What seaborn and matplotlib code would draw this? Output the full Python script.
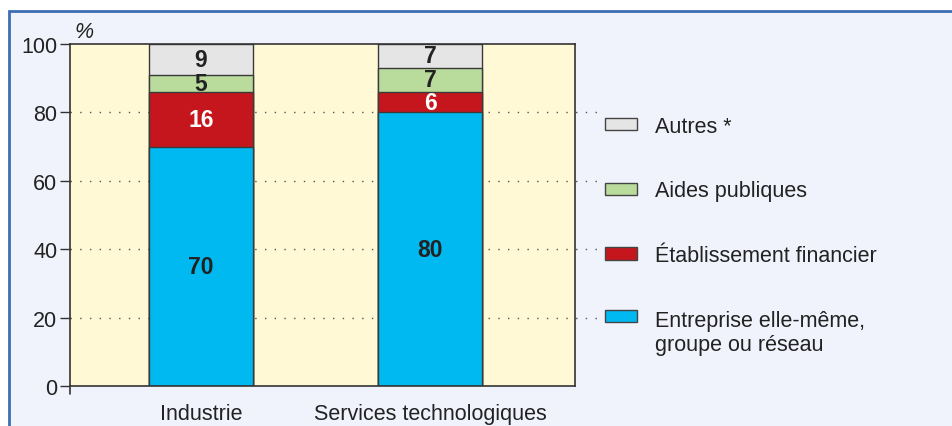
import numpy as np
import pandas as pd
import seaborn as sns
import matplotlib

matplotlib.use("Agg")
import matplotlib.pyplot as plt
from matplotlib.patches import Patch, Rectangle

secteurs = ["Industrie", "Services technologiques"]
entreprise = [70, 80]
etablissement = [16, 6]
aides = [5, 7]
autres = [9, 7]

series_labels = [
    "Entreprise elle-même,\ngroupe ou réseau",
    "Établissement financier",
    "Aides publiques",
    "Autres *",
]
series_colors = ["#00B9F1", "#C6161D", "#B9DB9C", "#E5E5E6"]
label_colors = ["#222222", "white", "#222222", "#222222"]
yticks = [0, 20, 40, 60, 80, 100]

sns.set_style("ticks")
plt.rcParams["font.family"] = ["Liberation Sans", "DejaVu Sans"]

fig = plt.figure(figsize=(9.52, 4.27), dpi=100)
fig.patch.set_facecolor("white")
fig.add_artist(
    Rectangle(
        (0.0095, -0.05), 1.1, 1.022, transform=fig.transFigure,
        facecolor="#F0F3FB", edgecolor="#3C6EB4", lw=2, zorder=-1,
    )
)

ax = fig.add_axes([0.0735, 0.0937, 0.5305, 0.801])
ax.set_facecolor("#FFF9D6")

# stacked bars drawn as cumulative totals, largest first
values = [entreprise, etablissement, aides, autres]
cum = np.cumsum(np.array(values), axis=0)
df = pd.DataFrame({"secteur": secteurs})
for i in range(len(values) - 1, -1, -1):
    df["total"] = cum[i]
    sns.barplot(
        data=df, x="secteur", y="total", color=series_colors[i], saturation=1,
        width=0.454, edgecolor="#3a3a3a", linewidth=1, ax=ax, zorder=2,
    )

# value labels at the middle of each segment
for i, vals in enumerate(values):
    for j, v in enumerate(vals):
        base = cum[i][j] - v
        ax.text(j, base + v / 2, str(v), ha="center", va="center",
                fontsize=16.5, fontweight="bold", color=label_colors[i], zorder=3)

ax.set_xlim(-0.572, 1.633)
ax.set_ylim(0, 100)
ax.set_yticks(yticks)
ax.set_xlabel("")
ax.set_ylabel("")
ax.tick_params(axis="y", length=7, width=1, color="#333333", labelsize=15.5,
               labelcolor="#222222", pad=2)
ax.tick_params(axis="x", length=0, labelsize=15.5, labelcolor="#222222", pad=12)
for s in ax.spines.values():
    s.set_color("#333333")
    s.set_linewidth(1.2)

# dotted guides running out to the legend
for y in yticks[1:-1]:
    ax.plot([0, 1.05], [y, y], transform=ax.get_yaxis_transform(),
            ls=(0, (1, 6)), lw=1, color="#555555", clip_on=False, zorder=1)
ax.plot([0, 0], [0, -0.024], transform=ax.transAxes, color="#333333",
        lw=1.2, clip_on=False)

ax.text(0.008, 1.005, "%", transform=ax.transAxes, fontsize=15.5,
        style="italic", color="#222222", ha="left", va="bottom")

handles = [Patch(facecolor=series_colors[i], edgecolor="#444444", lw=1)
           for i in range(len(values) - 1, -1, -1)]
labels = series_labels[::-1]
leg = ax.legend(handles, labels, loc="upper left", bbox_to_anchor=(1.059, 0.79),
                frameon=False, fontsize=15.5, handlelength=1.5, handleheight=0.5,
                handletextpad=0.85, labelspacing=2.03, borderpad=0,
                borderaxespad=0, labelcolor="#222222")
# keep the swatch level with the first line of the two-line label
leg._legend_handle_box.get_children()[0].get_children()[-1].align = "top"

fig.savefig("out.png", dpi=100)
